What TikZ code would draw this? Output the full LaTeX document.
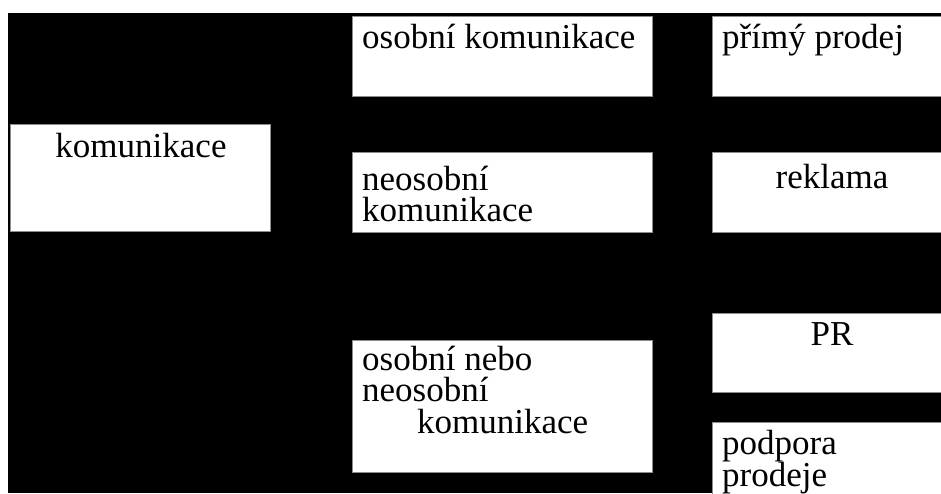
\documentclass[tikz,border=0pt]{standalone}
\usepackage{fontspec}
\setmainfont{Liberation Serif}
\begin{document}
\begin{tikzpicture}[x=1pt,y=-1pt,
  box/.style={draw=black!45, line width=0.8pt, fill=white, inner sep=0pt, anchor=north west},
  lbl/.style={inner sep=0pt, anchor=base west, align=left, font=\fontsize{35}{31.5}\selectfont},
  clbl/.style={inner sep=0pt, anchor=base, font=\fontsize{35}{31.5}\selectfont}]
\useasboundingbox (0,0) rectangle (941,493);
\fill[white] (0,0) rectangle (941,493);
\fill[black] (8,13) rectangle (941,493);
% boxes
\node[box, minimum width=260pt, minimum height=107pt] (bkom) at (10,124) {};
\node[box, minimum width=300pt, minimum height=80pt] (bos) at (352,16) {};
\node[box, minimum width=300pt, minimum height=80pt] (bneo) at (352,152) {};
\node[box, minimum width=300pt, minimum height=132pt] (bobe) at (352,340) {};
\node[box, minimum width=240pt, minimum height=80pt] (bpp) at (712,16) {};
\node[box, minimum width=240pt, minimum height=80pt] (brek) at (712,152) {};
\node[box, minimum width=240pt, minimum height=79pt] (bpr) at (712,313) {};
\node[box, minimum width=240pt, minimum height=90pt] (bpod) at (712,422) {};
% texts (base anchor = baseline of last line)
\node[clbl] (tkom) at (141,157) {komunikace};
\node[lbl] (tos) at (362,48) {osobní komunikace};
\node[lbl] (tneo) at (362,221.5) {neosobní\\komunikace};
\node[lbl] (tobe) at (362,433) {osobní nebo\\neosobní\\\hspace*{55pt}komunikace};
\node[lbl] (tpp) at (722,48) {přímý prodej};
\node[clbl] (trek) at (832,188) {reklama};
\node[clbl] (tpr) at (832,345) {PR};
\node[lbl] (tpod) at (722,486) {podpora\\[-1.5pt]prodeje};
\end{tikzpicture}
\end{document}
